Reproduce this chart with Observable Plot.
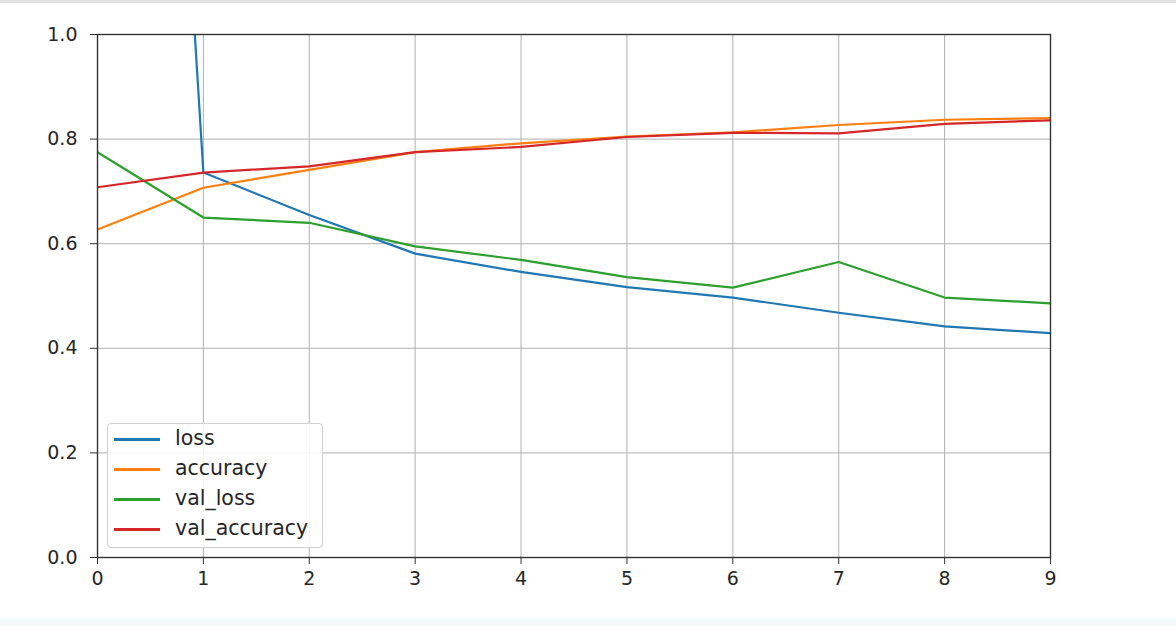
<!DOCTYPE html>
<html><head><meta charset="utf-8">
<script src="https://cdn.jsdelivr.net/npm/d3@7"></script>
<script src="https://cdn.jsdelivr.net/npm/@observablehq/plot@0.6"></script>
<style>
html,body{margin:0;padding:0;background:#fff;}
#wrap{position:relative;width:1176px;height:626px;overflow:hidden;background:#fff}
#topline{position:absolute;left:0;top:0;width:1176px;height:3px;background:#e2e2e2}
#bottom{position:absolute;left:0;top:618px;width:1176px;height:8px;background:#f3faf9}
#legend{position:absolute;left:107px;top:423px;width:216px;height:125px;box-sizing:border-box;border:1px solid #cfcfcf;border-radius:4px;background:rgba(255,255,255,0.85);font-family:"DejaVu Sans",sans-serif;font-size:20.5px;color:#262626}
.row{position:absolute;left:0;height:24px;width:212px}
.sw{position:absolute;left:6px;top:12px;width:46px;height:2.5px}
.lb{position:absolute;left:67px;top:0px;line-height:24px}
</style>
</head><body>
<div id="wrap"><div id="topline"></div><div id="chart"></div><div id="legend"></div><div id="bottom"></div></div>
<script>
const epochs = [0,1,2,3,4,5,6,7,8,9];
const seriesNames = ["loss","accuracy","val_loss","val_accuracy"];
const seriesColors = ["#1f77b4","#ff7f0e","#2ca02c","#d62728"];
const loss = [4.0,0.736,0.655,0.581,0.546,0.517,0.497,0.468,0.442,0.429];
const accuracy = [0.627,0.707,0.741,0.775,0.792,0.805,0.813,0.827,0.837,0.840];
const val_loss = [0.775,0.650,0.640,0.595,0.569,0.536,0.516,0.565,0.497,0.486];
const val_accuracy = [0.708,0.736,0.748,0.775,0.785,0.804,0.812,0.811,0.829,0.836];
const xTicks = [0,1,2,3,4,5,6,7,8,9];
const yTicks = [0,0.2,0.4,0.6,0.8,1.0];

const seriesValues = {loss, accuracy, val_loss, val_accuracy};
const data = seriesNames.flatMap(s => epochs.map((e,i) => ({series:s, epoch:e, value:seriesValues[s][i]})));

const chart = Plot.plot({
  width: 1176, height: 626,
  marginLeft: 97, marginRight: 126, marginTop: 34, marginBottom: 69,
  style: {fontFamily: "DejaVu Sans, sans-serif", fontSize: "19px", color: "#262626", background: "transparent"},
  x: {domain: [0,9], label: null},
  y: {domain: [0,1], label: null},
  color: {domain: seriesNames, range: seriesColors},
  marks: [
    Plot.gridX(xTicks, {stroke: "#b0b0b0", strokeOpacity: 1, strokeWidth: 1}),
    Plot.gridY(yTicks, {stroke: "#b0b0b0", strokeOpacity: 1, strokeWidth: 1}),
    Plot.line(data, {x: "epoch", y: "value", z: "series", stroke: "series", strokeWidth: 2.2, clip: true}),
    Plot.frame({stroke: "#333", strokeWidth: 1.4}),
    Plot.axisX({ticks: xTicks, tickFormat: d3.format("d"), tickSize: 7, tickPadding: 7, stroke: "#333", fontSize: 19, label: null}),
    Plot.axisY({ticks: yTicks, tickFormat: d3.format(".1f"), tickSize: 7, tickPadding: 13, stroke: "#333", fontSize: 19, label: null})
  ]
});
document.getElementById("chart").appendChild(chart);

const legend = document.getElementById("legend");
seriesNames.forEach((s,i) => {
  const row = document.createElement("div");
  row.className = "row";
  row.style.top = (2 + i*30) + "px";
  row.innerHTML = `<div class="sw" style="background:${seriesColors[i]}"></div><div class="lb">${s}</div>`;
  legend.appendChild(row);
});
</script>
</body></html>
